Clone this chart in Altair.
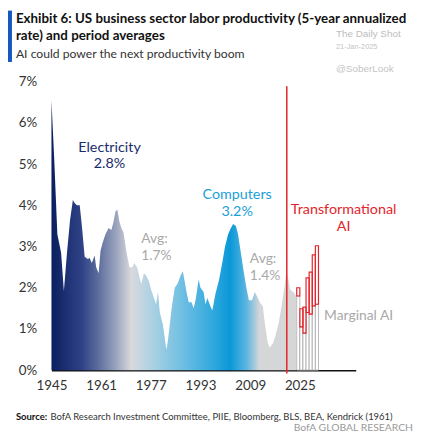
import altair as alt
import pandas as pd

# ---------------- data ----------------
years = [1945.0, 1945.9, 1946.9, 1947.7, 1948.1, 1949.0, 1950.0, 1951.0, 1951.9, 1952.5,
         1953.2, 1954.1, 1954.8, 1955.7, 1956.7, 1957.3, 1958.0, 1958.9, 1959.4, 1960.2,
         1960.8, 1961.5, 1962.4, 1963.4, 1964.3, 1965.0, 1965.6, 1966.2, 1966.9, 1967.5,
         1968.2, 1969.1, 1970.1, 1971.0, 1971.7, 1972.6, 1973.2, 1973.9, 1974.8, 1975.5,
         1976.4, 1977.1, 1978.0, 1978.7, 1979.3, 1979.9, 1980.9, 1981.8, 1982.1, 1982.8,
         1983.7, 1984.7, 1985.6, 1986.6, 1987.3, 1987.9, 1988.5, 1989.2, 1990.1, 1990.8,
         1991.4, 1992.4, 1993.0, 1994.0, 1994.6, 1995.2, 1996.2, 1996.8, 1997.8, 1999.0,
         2000.0, 2000.9, 2001.9, 2002.8, 2003.5, 2004.4, 2005.1, 2006.0, 2007.0, 2007.9,
         2008.6, 2009.6, 2010.5, 2011.5, 2012.1, 2013.1, 2013.7, 2014.7, 2015.3, 2016.3,
         2017.2, 2018.2, 2019.1, 2020.0, 2020.7, 2021.3, 2021.9, 2022.9, 2023.8]
productivity = [6.55, 5.1, 3.3, 3.0, 2.85, 1.92, 2.85, 3.65, 4.13, 4.05,
                4.0, 4.0, 3.5, 2.75, 2.7, 2.72, 2.6, 2.78, 2.5, 2.35,
                2.9, 3.1, 3.3, 3.45, 3.4, 3.6, 3.85, 3.9, 3.6, 3.45,
                3.35, 2.9, 2.5, 2.5, 2.6, 2.5, 2.3, 2.1, 2.35, 2.3,
                2.15, 1.95, 1.75, 1.6, 1.9, 1.4, 1.1, 0.6, 0.5, 0.9,
                1.5, 2.0, 2.1, 2.3, 2.4, 2.15, 1.9, 1.65, 1.65, 1.5,
                1.7, 2.2, 2.0, 1.9, 1.6, 1.75, 1.55, 1.45, 1.85, 2.2,
                2.6, 3.0, 3.3, 3.45, 3.55, 3.5, 3.3, 2.85, 2.35, 1.95,
                1.7, 1.7, 1.9, 1.75, 1.65, 1.55, 1.15, 0.65, 0.55, 0.65,
                0.85, 1.15, 1.55, 2.0, 2.4, 2.2, 1.95, 1.9, 1.8]

ai_years = [2024, 2025, 2026, 2027, 2028, 2029, 2030]
marginal_ai = [1.8, 1.05, 0.9, 1.4, 1.36, 1.56, 1.6]
transformational_ai = [2.0, 1.49, 1.53, 2.24, 2.38, 2.8, 3.02]

divider_year = [2020.8]
divider_top = [6.89]

x_ticks = [1945, 1961, 1977, 1993, 2009, 2025]
y_ticks = [0, 1, 2, 3, 4, 5, 6, 7]

NAVY = "#1b2c6b"
BLUE = "#1a9fd8"
RED = "#e3242b"
GRAY = "#a9a9a9"

center_text = ["Electricity", "2.8%", "Computers", "3.2%", "Transformational", "AI"]
center_year = [1963.7, 1963.7, 2004.8, 2004.8, 2039.1, 2039.1]
center_val = [5.4, 5.01, 4.25, 3.84, 3.89, 3.48]
center_color = [NAVY, NAVY, BLUE, BLUE, RED, RED]

left_text = ["Avg:", "1.7%", "Avg:", "1.4%", "Marginal AI"]
left_year = [1973.9, 1973.9, 2008.9, 2008.9, 2032.8]
left_val = [3.19, 2.78, 2.69, 2.28, 1.31]

title_lines = ["Exhibit 6: US business sector labor productivity (5-year annualized",
               "rate) and period averages"]
subtitle = "AI could power the next productivity boom"
source_bold = "Source:"
source_rest = "BofA Research Investment Committee, PIIE, Bloomberg, BLS, BEA, Kendrick (1961)"
brand = "BofA GLOBAL RESEARCH"
watermark = ["The Daily Shot", "21-Jan-2025", "@SoberLook"]

FONT = "Lato"
W, H = 308, 292

# ---------------- chart ----------------
xs = alt.Scale(domain=[1945, 2043], nice=False, zero=False)
ys = alt.Scale(domain=[0, 7], nice=False)

df = pd.DataFrame({"year": years, "value": productivity})
ai = pd.DataFrame({"year": ai_years, "year_end": [y + 1 for y in ai_years],
                   "marginal": marginal_ai, "transformational": transformational_ai})

grad = alt.Gradient(
    gradient="linear", x1=0, x2=1, y1=0, y2=0,
    stops=[
        alt.GradientStop(offset=0.0, color="#0a1f60"),
        alt.GradientStop(offset=0.124, color="#2f4286"),
        alt.GradientStop(offset=0.193, color="#5e6e9e"),
        alt.GradientStop(offset=0.261, color="#98a1bc"),
        alt.GradientStop(offset=0.326, color="#d9d9dc"),
        alt.GradientStop(offset=0.394, color="#b4d3e3"),
        alt.GradientStop(offset=0.528, color="#72c0e2"),
        alt.GradientStop(offset=0.665, color="#2ea8de"),
        alt.GradientStop(offset=0.73, color="#0a98d8"),
        alt.GradientStop(offset=0.798, color="#5db6e0"),
        alt.GradientStop(offset=0.85, color="#d4d6d8"),
        alt.GradientStop(offset=1.0, color="#d6d6d6"),
    ],
)

area = alt.Chart(df).mark_area(color=grad, interpolate="linear").encode(
    x=alt.X("year:Q", scale=xs,
            axis=alt.Axis(values=x_ticks, format="d", title=None, ticks=False, grid=False,
                          domainColor="#111", domainWidth=1.5, labelFontSize=13.5,
                          labelFont=FONT, labelColor="#333", labelPadding=9,
                          labelFlush=False, labelOverlap=False)),
    y=alt.Y("value:Q", scale=ys,
            axis=alt.Axis(values=y_ticks, labelExpr="datum.value + '%'", title=None,
                          ticks=False, grid=False, domain=False, labelFontSize=13.5,
                          labelFont=FONT, labelColor="#333", labelPadding=15,
                          labelFlush=False, labelOverlap=False)),
)

gray_bars = alt.Chart(ai).mark_rect(fill="white", stroke="#9a9a9a", strokeWidth=0.7).encode(
    x=alt.X("year:Q", scale=xs), x2="year_end:Q",
    y=alt.Y("marginal:Q", scale=ys), y2=alt.datum(0),
)

red_boxes = alt.Chart(ai).mark_rect(fill="white", fillOpacity=0, stroke=RED, strokeWidth=1.2).encode(
    x=alt.X("year:Q", scale=xs), x2="year_end:Q",
    y=alt.Y("transformational:Q", scale=ys), y2="marginal:Q",
)

divider = alt.Chart(pd.DataFrame({"year": divider_year, "top": divider_top})).mark_rule(
    color=RED, strokeWidth=1.5).encode(
    x=alt.X("year:Q", scale=xs), y=alt.Y("top:Q", scale=ys), y2=alt.datum(-0.08),
)

center_df = pd.DataFrame({"t": center_text, "year": center_year, "v": center_val, "c": center_color})
center_lbl = alt.Chart(center_df).mark_text(font=FONT, fontSize=14.5, align="center",
                                            baseline="middle").encode(
    x=alt.X("year:Q", scale=xs), y=alt.Y("v:Q", scale=ys), text="t:N",
    color=alt.Color("c:N", scale=None),
)

left_df = pd.DataFrame({"t": left_text, "year": left_year, "v": left_val})
left_lbl = alt.Chart(left_df).mark_text(font=FONT, fontSize=14, align="left",
                                        baseline="middle", color=GRAY).encode(
    x=alt.X("year:Q", scale=xs), y=alt.Y("v:Q", scale=ys), text="t:N",
)


def txt(s, x, y, size, color="#222", weight="normal", align="left", font=FONT):
    return alt.Chart(pd.DataFrame({"t": [s]})).mark_text(
        font=font, fontSize=size, fontWeight=weight, color=color, align=align,
        baseline="middle").encode(text="t:N", x=alt.value(x), y=alt.value(y))


blue_bar = alt.Chart(pd.DataFrame({"a": [0]})).mark_rect(color="#1558c0").encode(
    x=alt.value(-44), x2=alt.value(-40), y=alt.value(-72), y2=alt.value(-20))

header = [
    blue_bar,
    txt(title_lines[0], -36, -63, 13.5, "#111", "bold"),
    txt(title_lines[1], -36, -46, 13.5, "#111", "bold"),
    txt(subtitle, -36, -28, 12.3, "#333"),
    txt(watermark[0], 288, -48, 10, "#bdbdbd", font="Liberation Sans"),
    txt(watermark[1], 288, -35, 7.5, "#c4c4c4", font="Liberation Sans"),
    txt(watermark[2], 288, -13, 10, "#c4c4c4", font="Liberation Sans"),
    txt(source_bold, -36, 339, 9.6, "#111", "bold"),
    txt(source_rest, -1, 339, 9.6, "#333"),
    txt(brand, 366, 351, 10.5, "#9a9a9a", align="right"),
]

chart = alt.layer(area, gray_bars, red_boxes, divider, center_lbl, left_lbl, *header).properties(
    width=W, height=H,
    autosize=alt.AutoSizeParams(type="none"),
    padding={"left": 44, "top": 72, "right": 60, "bottom": 64},
    background="white",
).configure_view(stroke=None)

chart.save("out.html", embed_options={"renderer": "svg", "actions": False})
